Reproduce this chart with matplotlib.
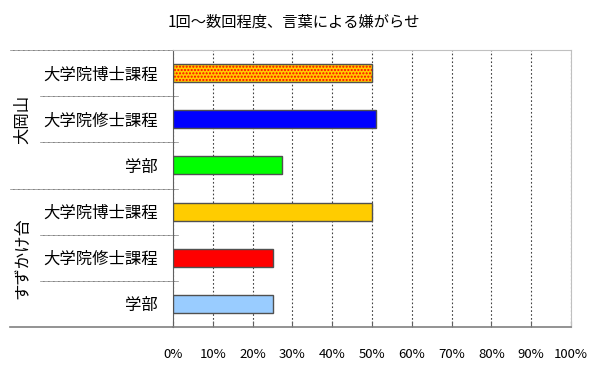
import matplotlib
matplotlib.use('Agg')
import matplotlib.pyplot as plt
import matplotlib.transforms as mtransforms

plt.rcParams['font.family'] = ['Noto Sans CJK JP', 'DejaVu Sans']

title = '1回～数回程度、言葉による嫌がらせ'
groups = ['大岡山', 'すずかけ台']
categories = ['大学院博士課程', '大学院修士課程', '学部',
              '大学院博士課程', '大学院修士課程', '学部']
values = [50, 51, 27.5, 50, 25, 25]
colors = ['#FFCC00', '#0000FF', '#00FF00', '#FFCC00', '#FF0000', '#99CCFF']
xticks = list(range(0, 101, 10))

fig = plt.figure(figsize=(6, 3.72), dpi=100)
ax = fig.add_axes([173 / 600, 1 - 327 / 372, 398 / 600, 277 / 372])

ypos = list(range(len(categories)))
bar_h = 0.39
for i, (v, c) in enumerate(zip(values, colors)):
    if i == 0:
        # orange with red dots
        ax.barh(i, v, height=bar_h, color=c, edgecolor='#FF0000',
                hatch='.....', linewidth=0, zorder=3)
        ax.barh(i, v, height=bar_h, color='none', edgecolor='#505050',
                linewidth=1, zorder=4)
    else:
        ax.barh(i, v, height=bar_h, color=c, edgecolor='#505050',
                linewidth=1, zorder=3)

ax.set_xlim(0, 100)
ax.set_ylim(len(categories) - 0.5, -0.5)
ax.set_xticks(xticks)
ax.set_xticklabels([f'{t}%' for t in xticks], fontsize=9.5)
ax.set_yticks(ypos)
ax.set_yticklabels(categories, fontsize=11.8)
ax.tick_params(axis='x', direction='in', length=4, pad=15, color='#606060')
ax.tick_params(axis='y', length=0, pad=11)

ax.grid(axis='x', linestyle=(0, (1.5, 2)), color='#404040', linewidth=0.8, zorder=1)

ax.spines['left'].set_color('#606060')
ax.spines['bottom'].set_color('#808080')
ax.spines['bottom'].set_linewidth(1.2)
ax.spines['top'].set_color('#C0C0C0')
ax.spines['right'].set_color('#C0C0C0')

# separator lines in the label area
trans = mtransforms.blended_transform_factory(ax.transAxes, ax.transData)
n = len(categories)
for k in range(n + 1):
    y = k - 0.5
    if k in (0, 3, n):
        x0 = -0.41
    else:
        x0 = -0.334
    if k == n:
        ax.plot([x0, 0], [y, y], transform=trans, color='#808080',
                linewidth=1.2, clip_on=False)
    else:
        ax.plot([x0, 0.0126], [y, y], transform=trans, color='#505050',
                linewidth=0.6, linestyle=(0, (1, 0.5)), clip_on=False)

for g, name in enumerate(groups):
    ax.text(-0.378, g * 3 + 1, name, transform=trans, rotation=90,
            ha='center', va='center', fontsize=11.8)

fig.text(0.49, 1 - 22 / 372, title, ha='center', va='center', fontsize=11)

fig.savefig('out.png', dpi=100)
